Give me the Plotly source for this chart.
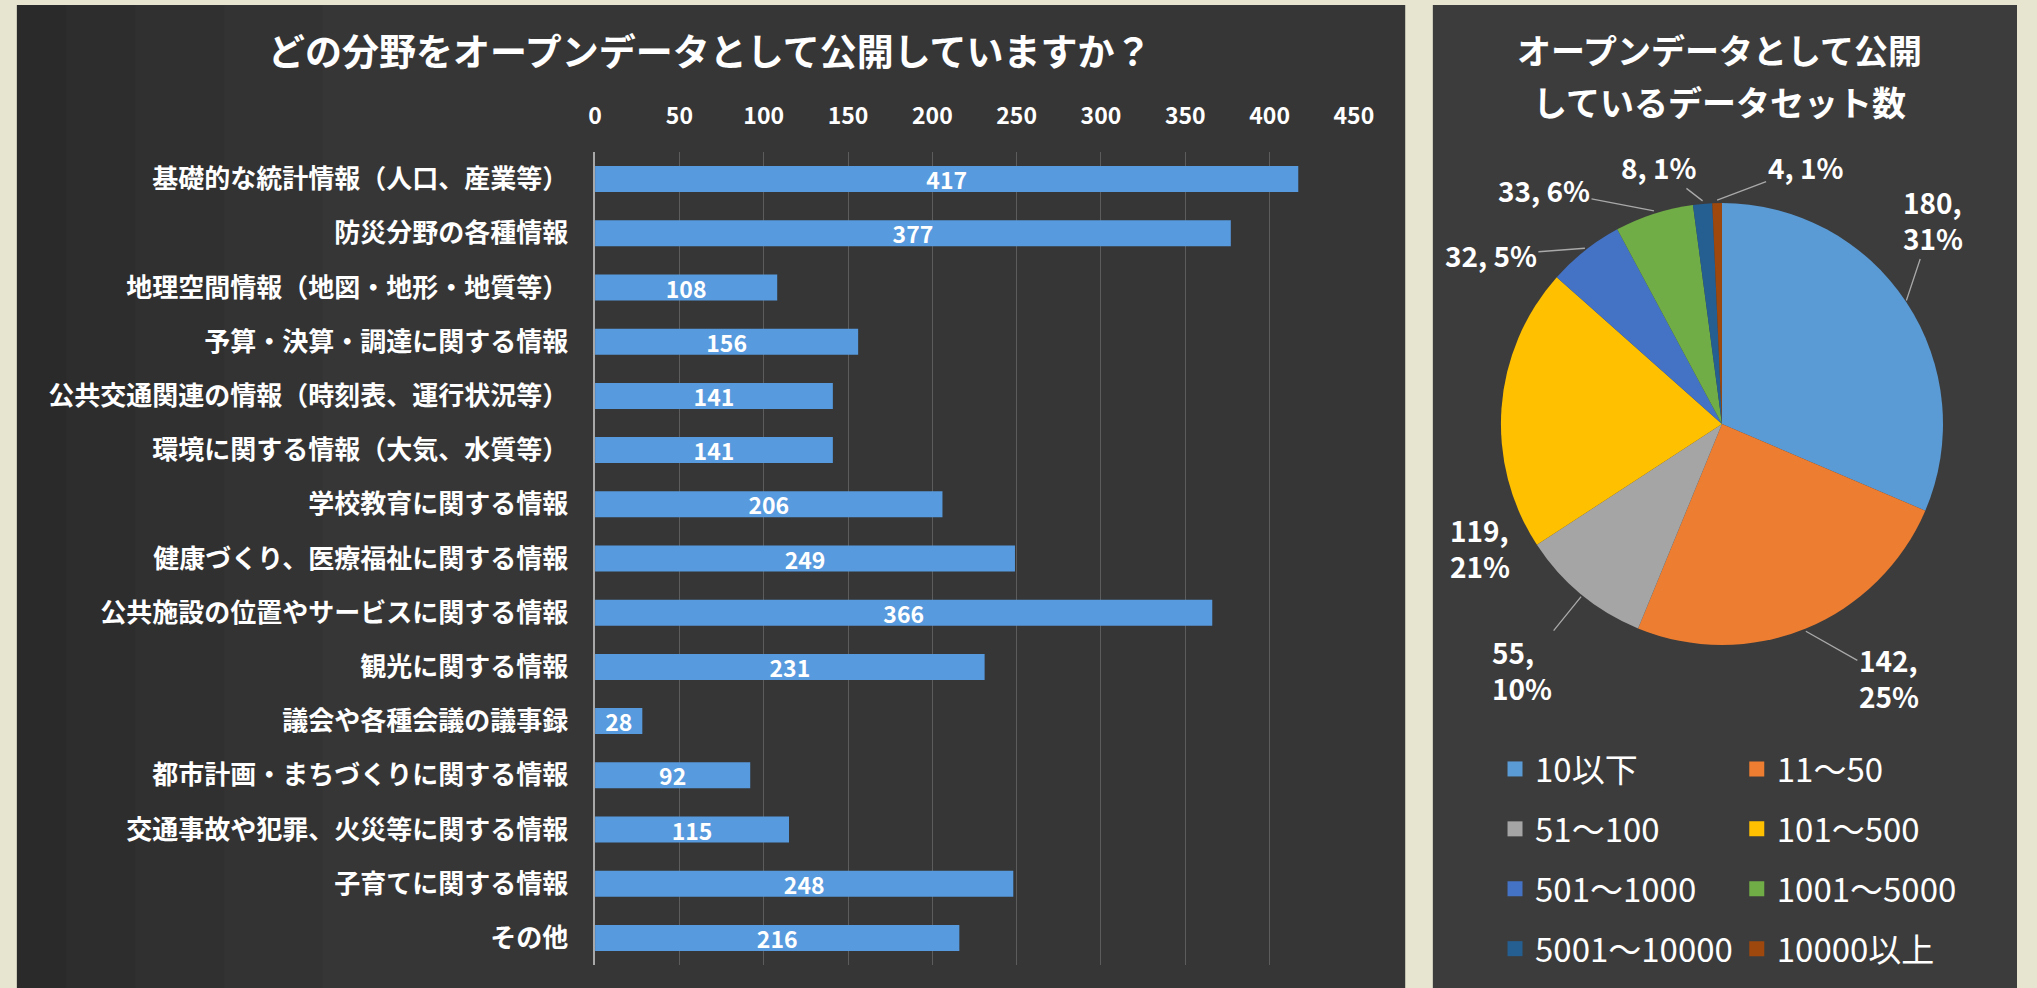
import math
import plotly.graph_objects as go

# 公開分野（棒グラフ）
categories = [
    "基礎的な統計情報（人口、産業等）",
    "防災分野の各種情報",
    "地理空間情報（地図・地形・地質等）",
    "予算・決算・調達に関する情報",
    "公共交通関連の情報（時刻表、運行状況等）",
    "環境に関する情報（大気、水質等）",
    "学校教育に関する情報",
    "健康づくり、医療福祉に関する情報",
    "公共施設の位置やサービスに関する情報",
    "観光に関する情報",
    "議会や各種会議の議事録",
    "都市計画・まちづくりに関する情報",
    "交通事故や犯罪、火災等に関する情報",
    "子育てに関する情報",
    "その他",
]
counts = [417, 377, 108, 156, 141, 141, 206, 249, 366, 231, 28, 92, 115, 248, 216]
x_ticks = [0, 50, 100, 150, 200, 250, 300, 350, 400, 450]

# データセット数（円グラフ）
size_labels = ["10以下", "11～50", "51～100", "101～500",
               "501～1000", "1001～5000", "5001～10000", "10000以上"]
size_counts = [180, 142, 55, 119, 32, 33, 8, 4]
size_pcts = ["31%", "25%", "10%", "21%", "5%", "6%", "1%", "1%"]

W, H = 2037, 988
FONT = "Noto Sans CJK JP"
WHITE = "#ffffff"
slice_colors = ["#5b9bd5", "#ed7d31", "#a5a5a5", "#ffc000",
                "#4472c4", "#70ad47", "#255e91", "#9e480e"]
bar_color = "#579ade"

# 円の中心と半径（ピクセル）
PIE_CX, PIE_CY, PIE_R = 1738, 424, 224
# データラベルの引き出し位置（スライス外周からのずれ、ピクセル）
label_offsets = [(27, -81), (83, 47), (-59, 73), (-22, 141),
                 (-94, 7), (-110, -21), (-44, -34), (88, -33)]
leader_shown = [True, True, True, False, True, True, True, True]


def px_x(v):
    return v / W


def px_y(v):
    return 1 - v / H


fig = go.Figure()

fig.add_trace(go.Bar(
    x=counts,
    y=categories,
    orientation="h",
    marker=dict(color=bar_color, line=dict(width=0)),
    texttemplate="%{x}",
    textposition="inside",
    insidetextanchor="middle",
    textangle=0,
    constraintext="none",
    textfont=dict(family=FONT, size=23, color=WHITE, weight="bold"),
    showlegend=False,
    hoverinfo="skip",
))

fig.add_trace(go.Pie(
    labels=size_labels,
    values=size_counts,
    textinfo="none",
    marker=dict(colors=slice_colors, line=dict(width=0)),
    direction="clockwise",
    sort=False,
    rotation=0,
    showlegend=False,
    domain=dict(x=[px_x(PIE_CX - PIE_R), px_x(PIE_CX + PIE_R)],
                y=[px_y(PIE_CY + PIE_R), px_y(PIE_CY - PIE_R)]),
    hoverinfo="skip",
))

# 凡例（2列）
for i, (lab, col) in enumerate(zip(size_labels, slice_colors)):
    fig.add_trace(go.Scatter(
        x=[None], y=[None], mode="markers",
        marker=dict(symbol="square", size=15, color=col),
        name=lab,
        legendgroup=lab,
        legend="legend" if i % 2 == 0 else "legend2",
        showlegend=True,
        hoverinfo="skip",
    ))

legend_common = dict(
    font=dict(family=FONT, size=33, color=WHITE),
    bgcolor="rgba(0,0,0,0)",
    borderwidth=0,
    orientation="v",
    tracegroupgap=14,
    xanchor="left",
    yanchor="top",
    itemclick=False,
    itemdoubleclick=False,
)

shapes = [
    # 左パネル
    dict(type="rect", xref="paper", yref="paper", x0=px_x(10), x1=px_x(1417),
         y0=0, y1=px_y(5), fillcolor="#363636", line=dict(width=0), layer="below"),
    # 右パネル
    dict(type="rect", xref="paper", yref="paper", x0=px_x(1445), x1=1,
         y0=0, y1=px_y(5), fillcolor="#3c3c3c", line=dict(width=0), layer="below"),
]
# 左端の陰影
for x_end in [60, 130, 220, 320]:
    shapes.append(dict(type="rect", xref="paper", yref="paper", x0=px_x(10), x1=px_x(x_end),
                       y0=0, y1=px_y(5), fillcolor="rgba(0,0,0,0.05)",
                       line=dict(width=0), layer="below"))

annotations = [
    dict(text="どの分野をオープンデータとして公開していますか？", x=px_x(712), y=px_y(50),
         xref="paper", yref="paper", showarrow=False, xanchor="center", yanchor="middle",
         font=dict(family=FONT, size=37, color=WHITE, weight="bold")),
    dict(text="オープンデータとして公開", x=px_x(1736), y=px_y(49),
         xref="paper", yref="paper", showarrow=False, xanchor="center", yanchor="middle",
         font=dict(family=FONT, size=34, color=WHITE, weight="bold")),
    dict(text="しているデータセット数", x=px_x(1736), y=px_y(101),
         xref="paper", yref="paper", showarrow=False, xanchor="center", yanchor="middle",
         font=dict(family=FONT, size=34, color=WHITE, weight="bold")),
]

# 円グラフのデータラベル：各スライス中央角の外周点から引き出す
total = sum(size_counts)
acc = 0
for v, pct, (dx, dy), lead in zip(size_counts, size_pcts, label_offsets, leader_shown):
    mid = (acc + v / 2) / total * 2 * math.pi
    acc += v
    ex = PIE_CX + PIE_R * math.sin(mid)
    ey = PIE_CY - PIE_R * math.cos(mid)
    sep = ",<br>" if v >= 50 else ", "
    annotations.append(dict(
        text=f"{v}{sep}{pct}",
        x=px_x(ex), y=px_y(ey), xref="paper", yref="paper",
        showarrow=True, ax=dx, ay=dy, axref="pixel", ayref="pixel",
        arrowhead=0, arrowwidth=1.3, standoff=0,
        arrowcolor="#a9a9a9" if lead else "rgba(0,0,0,0)",
        align="left",
        font=dict(family=FONT, size=28, color=WHITE, weight="bold"),
    ))

fig.update_layout(
    width=W, height=H,
    margin=dict(l=0, r=0, t=0, b=0),
    paper_bgcolor="#e7e4cf",
    plot_bgcolor="rgba(0,0,0,0)",
    bargap=0.52,
    shapes=shapes,
    annotations=annotations,
    xaxis=dict(
        domain=[px_x(596), px_x(1365)],
        range=[0, 450],
        side="top",
        tickvals=x_ticks,
        ticks="",
        ticklabelstandoff=22,
        tickfont=dict(family=FONT, size=23, color=WHITE, weight="bold"),
        showgrid=True, gridcolor="#5c5c5c", gridwidth=1,
        zeroline=False, showline=False,
        fixedrange=True,
    ),
    yaxis=dict(
        domain=[px_y(965), px_y(152)],
        categoryorder="array",
        categoryarray=categories,
        range=[len(categories) - 0.5, -0.5],
        ticks="",
        ticklabelstandoff=20,
        tickfont=dict(family=FONT, size=26, color=WHITE, weight="bold"),
        showline=True, linecolor="#a8a8a8", linewidth=1.5,
        showgrid=False, zeroline=False,
        fixedrange=True,
    ),
    legend=dict(x=px_x(1508), y=px_y(741), **legend_common),
    legend2=dict(x=px_x(1753), y=px_y(741), **legend_common),
)

fig.write_html("out.html")
